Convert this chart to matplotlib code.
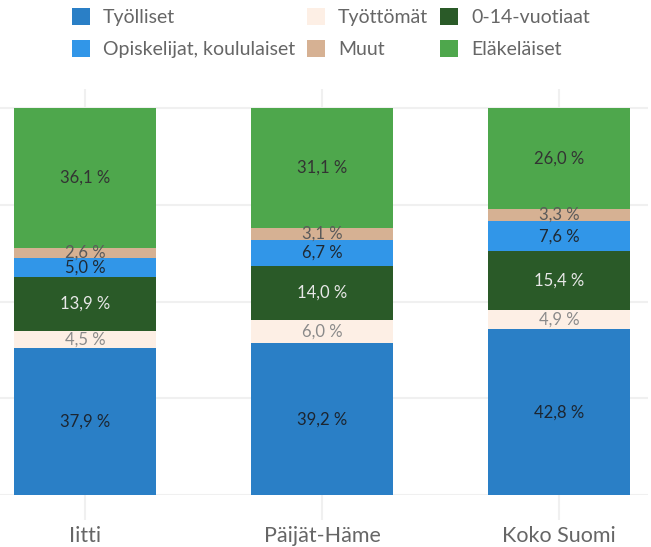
import matplotlib
matplotlib.use("Agg")
import matplotlib.pyplot as plt
import numpy as np

plt.rcParams["font.family"] = ["Lato", "DejaVu Sans"]

# ---- data ----
regions = ["Iitti", "Päijät-Häme", "Koko Suomi"]
series = ["Työlliset", "Työttömät", "0-14-vuotiaat",
          "Opiskelijat, koululaiset", "Muut", "Eläkeläiset"]
tyolliset = [37.9, 39.2, 42.8]
tyottomat = [4.5, 6.0, 4.9]
lapset = [13.9, 14.0, 15.4]
opiskelijat = [5.0, 6.7, 7.6]
muut = [2.6, 3.1, 3.3]
elakelaiset = [36.1, 31.1, 26.0]
values = [tyolliset, tyottomat, lapset, opiskelijat, muut, elakelaiset]

colors = ["#2a7fc6", "#fdefe5", "#2a5a28", "#3196e8", "#d6b193", "#4ea74c"]
label_colors = ["#1c2530", "#8a8a8a", "#e8e8e8", "#1f2933", "#5a5a5a", "#333333"]

fig = plt.figure(figsize=(6.51, 5.47), dpi=100)
ax = fig.add_axes([0, 0.095, 648 / 651, 0.742])

x = np.arange(len(regions))
bottom = np.zeros(len(regions))
handles = []
for name, vals, c, lc in zip(series, values, colors, label_colors):
    vals = np.array(vals)
    h = ax.bar(x, vals, bottom=bottom, width=0.6, color=c, label=name, zorder=2)
    handles.append(h)
    for xi, b, v in zip(x, bottom, vals):
        ax.text(xi, b + v / 2, f"{v:.1f} %".replace(".", ","), ha="center",
                va="center", fontsize=12, color=lc, zorder=3)
    bottom += vals

ax.set_xlim(-0.359, 2.376)
ax.set_ylim(0, 104.9)
ax.set_yticks([0, 25, 50, 75, 100])
ax.yaxis.grid(True, color="#f0f0f0", lw=1.5, zorder=0)
ax.xaxis.grid(True, color="#f0f0f0", lw=1.5, zorder=0)
ax.set_xticks(x)
ax.set_xticklabels(regions, fontsize=15.5, color="#666666")
ax.tick_params(axis="x", length=18, width=1.5, color="#f0f0f0", pad=4)
ax.tick_params(axis="y", left=False, labelleft=False)
for s in ax.spines.values():
    s.set_visible(False)

# legend: row-wise order in a column-filled layout
order = [0, 3, 1, 4, 2, 5]
fig.legend([handles[i] for i in order], [series[i] for i in order],
           loc="upper left", bbox_to_anchor=(0.083, 1.017), ncol=3, frameon=False,
           fontsize=14, labelcolor="#666666", handlelength=0.93, handleheight=0.93,
           handletextpad=0.67, columnspacing=0.62, labelspacing=0.72)

fig.savefig("out.png", dpi=100)
